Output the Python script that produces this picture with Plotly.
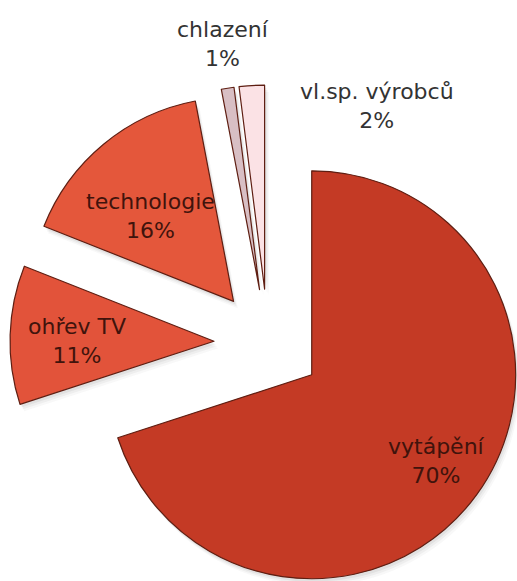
import plotly.graph_objects as go

# Energy use by purpose, share in percent
labels = ["vytápění", "ohřev TV", "technologie", "chlazení", "vl.sp. výrobců"]
values = [70, 11, 16, 1, 2]

slice_colors = ["#C43A25", "#E2533A", "#E4573B", "#D8BFC4", "#FBE2E5"]
edge_colors = "#5E1E12"
pull_amount = 0.265

W, H = 536, 620  # canvas a little larger than the view so the exploded pie keeps its size
box_px = 516     # square box the pie (with pull) lives in
box_left, box_top = 10, 85


def pie_domain(dx=0.0, dy=0.0):
    left, top = box_left + dx, box_top + dy
    return dict(x=[left / W, (left + box_px) / W],
                y=[1 - (top + box_px) / H, 1 - top / H])


fig = go.Figure()

# soft drop shadow: a few faint copies of the pie, nudged down and right
for off, alpha in [(7, 0.035), (5, 0.05), (3, 0.07)]:
    fig.add_trace(go.Pie(
        labels=labels, values=values, sort=False,
        direction="clockwise", rotation=0,
        pull=[pull_amount] * len(values),
        marker=dict(colors=[f"rgba(60,60,60,{alpha})"] * len(values),
                    line=dict(width=0)),
        textinfo="none", hoverinfo="skip", showlegend=False,
        domain=pie_domain(off * 0.6, off),
    ))

fig.add_trace(go.Pie(
    labels=labels,
    values=values,
    sort=False,
    direction="clockwise",
    rotation=0,
    pull=[pull_amount] * len(values),
    marker=dict(colors=slice_colors, line=dict(color=edge_colors, width=1.2)),
    textinfo="none",
    hoverinfo="label+percent",
    showlegend=False,
    domain=pie_domain(),
))

# label anchor points (pixels from top-left) and text colours
label_pos = [(436, 461), (77, 341), (150, 216), (223, 44), (377, 106)]
label_color = ["#40130C", "#40130C", "#40130C", "#333333", "#333333"]

total = sum(values)
for lab, val, (px, py), col in zip(labels, values, label_pos, label_color):
    fig.add_annotation(
        x=px / W, y=1 - py / H, xref="paper", yref="paper",
        text=f"{lab}<br>{round(100 * val / total)}%",
        showarrow=False, xanchor="center", yanchor="middle",
        font=dict(family="DejaVu Sans", size=22, color=col),
        align="center",
    )

fig.update_layout(
    width=W, height=H,
    margin=dict(l=0, r=0, t=0, b=0),
    paper_bgcolor="white",
    plot_bgcolor="white",
)

fig.write_html("out.html", post_script="document.body.style.overflow='hidden';document.documentElement.style.overflow='hidden';")
